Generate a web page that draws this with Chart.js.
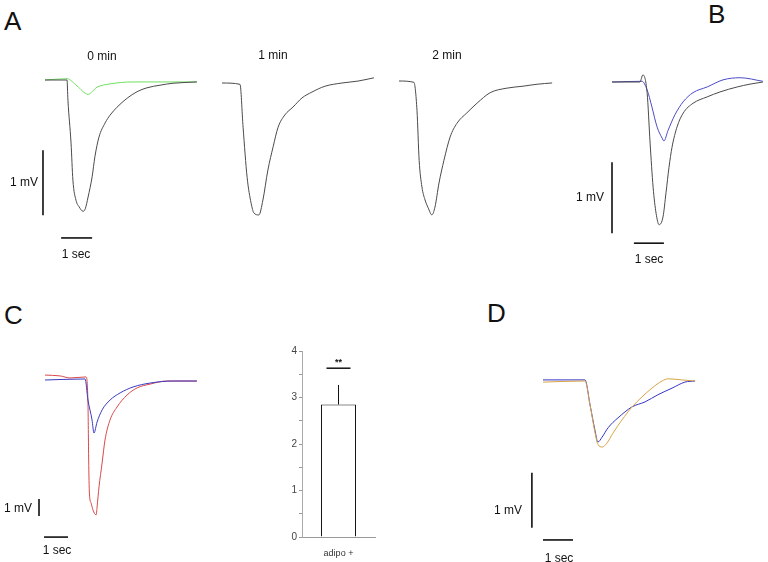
<!DOCTYPE html>
<html>
<head>
<meta charset="utf-8">
<script src="https://cdn.jsdelivr.net/npm/chart.js@4.4.1/dist/chart.umd.min.js"></script>
<style>
  html,body{margin:0;padding:0;background:#fff;}
  #fig{position:relative;width:768px;height:562px;overflow:hidden;font-family:"Liberation Sans",Arial,sans-serif;color:#111;}
  #fig canvas{position:absolute;}
  .letter{position:absolute;font-size:26px;line-height:26px;}
  .lbl{position:absolute;font-size:12px;line-height:12px;white-space:nowrap;transform:translate(-50%,-50%);}
</style>
</head>
<body>
<div id="fig">
  <canvas id="cA0"></canvas>
  <canvas id="cA1"></canvas>
  <canvas id="cA2"></canvas>
  <canvas id="cB"></canvas>
  <canvas id="cC"></canvas>
  <canvas id="cCbar"></canvas>
  <canvas id="cD"></canvas>

  <div class="letter" style="left:4px;top:8px">A</div>
  <div class="letter" style="left:708px;top:1px">B</div>
  <div class="letter" style="left:4px;top:302px">C</div>
  <div class="letter" style="left:487px;top:300px">D</div>

  <div class="lbl" style="left:102px;top:56px">0 min</div>
  <div class="lbl" style="left:273px;top:55px">1 min</div>
  <div class="lbl" style="left:447px;top:55px">2 min</div>

  <div class="lbl" style="left:24px;top:182px">1 mV</div>
  <div class="lbl" style="left:76px;top:254px">1 sec</div>
  <div class="lbl" style="left:590px;top:197px">1 mV</div>
  <div class="lbl" style="left:649px;top:259px">1 sec</div>
  <div class="lbl" style="left:18px;top:508px">1 mV</div>
  <div class="lbl" style="left:57px;top:550px">1 sec</div>
  <div class="lbl" style="left:508px;top:510px">1 mV</div>
  <div class="lbl" style="left:559px;top:558px">1 sec</div>
</div>
<script>
// traces: time (sec) / membrane potential (mV), baseline = 0
const a0BlackT = [0, 0.71, 0.74, 0.84, 0.9, 1.0, 1.1, 1.23, 1.3, 1.39, 1.52, 1.61, 1.74, 1.94, 2.1, 2.32, 2.65, 2.97, 3.29, 3.71, 4.13, 4.9];
const a0BlackV = [0, 0, -0.31, -0.97, -1.54, -1.85, -1.95, -2.02, -1.98, -1.8, -1.49, -1.18, -0.88, -0.66, -0.54, -0.42, -0.28, -0.18, -0.12, -0.08, -0.05, -0.03];
const a0GreenT = [0, 0.71, 1.03, 1.39, 1.68, 2.1, 2.84, 4.9];
const a0GreenV = [0, 0.02, -0.09, -0.22, -0.11, -0.06, -0.03, -0.03];

const a1T = [0, 0.58, 0.68, 0.81, 0.94, 1.03, 1.19, 1.32, 1.48, 1.65, 1.81, 2.03, 2.29, 2.58, 2.9, 3.32, 3.87, 4.39, 4.9];
const a1V = [0, -0.02, -0.68, -1.45, -1.85, -2.0, -2.03, -1.8, -1.34, -0.98, -0.68, -0.49, -0.37, -0.23, -0.14, -0.05, 0, 0.03, 0.08];

const a2T = [0, 0.48, 0.58, 0.65, 0.74, 0.84, 0.94, 1.06, 1.16, 1.29, 1.45, 1.65, 1.87, 2.19, 2.52, 2.94, 3.48, 4.0, 4.45, 4.94];
const a2V = [0, -0.02, -0.45, -1.22, -1.63, -1.83, -1.95, -2.06, -1.94, -1.57, -1.22, -0.86, -0.65, -0.49, -0.34, -0.18, -0.11, -0.08, -0.05, -0.03];

const bBlackT = [0, 0.93, 1.03, 1.17, 1.27, 1.37, 1.47, 1.57, 1.7, 1.8, 1.9, 2.0, 2.17, 2.37, 2.7, 3.17, 3.6, 4.17, 4.6, 5.03];
const bBlackV = [0, 0, 0.1, -0.15, -0.86, -1.48, -1.85, -2.01, -1.9, -1.56, -1.2, -0.92, -0.63, -0.44, -0.3, -0.21, -0.14, -0.07, -0.03, 0];
const bBlueT = [0, 1.0, 1.17, 1.33, 1.5, 1.67, 1.73, 1.87, 2.1, 2.37, 2.7, 3.17, 3.7, 4.27, 5.03];
const bBlueV = [0, 0.01, -0.11, -0.35, -0.63, -0.79, -0.83, -0.68, -0.46, -0.28, -0.15, -0.07, 0.03, 0.06, 0.01];

const cRedT = [0, 0.63, 1.04, 1.71, 1.79, 1.82, 1.85, 1.92, 2.0, 2.13, 2.17, 2.25, 2.38, 2.5, 2.71, 3.0, 3.42, 3.83, 4.38, 5.08, 6.33];
const cRedV = [0.29, 0.24, 0.12, 0.18, -1.35, -4.71, -6.65, -7.24, -7.65, -7.94, -7.47, -6.29, -4.88, -3.53, -2.35, -1.59, -0.88, -0.47, -0.24, -0.06, -0.06];
const cBlueT = [0, 1.67, 1.79, 1.96, 2.04, 2.17, 2.38, 2.71, 3.13, 3.67, 4.38, 5.33, 6.33];
const cBlueV = [0, 0.06, -1.18, -2.35, -3.12, -2.47, -1.76, -1.18, -0.76, -0.41, -0.18, -0.06, -0.06];

const dOrangeT = [0, 1.4, 1.57, 1.73, 1.83, 1.97, 2.13, 2.33, 2.63, 2.97, 3.3, 3.63, 3.97, 4.17, 4.63, 5.07];
const dOrangeV = [-0.02, 0, -0.44, -0.93, -1.15, -1.2, -1.13, -0.95, -0.71, -0.47, -0.29, -0.13, 0, 0.04, 0.02, 0];
const dBlueT = [0, 1.4, 1.57, 1.73, 1.83, 1.97, 2.17, 2.5, 2.97, 3.4, 3.83, 4.3, 4.73, 5.07];
const dBlueV = [0.02, 0.02, -0.44, -0.89, -1.11, -1.02, -0.85, -0.67, -0.47, -0.38, -0.25, -0.13, -0.02, 0];

// bar graph in C
const barLabels = ['adipo +'];
const barValues = [2.85];
const barErrUpper = [3.27];
const sigLevel = 3.63;
const sigText = '**';

// scale bars (1 sec, 1 mV): anchor corner in data units
const scaleA = {vx: -0.065, vTop: -1.08, hy: -2.43, hx: 0.52};
const scaleB = {vx: 0, vTop: -1.13, hy: -2.27, hx: 0.73};
const scaleC = {vx: -0.25, vTop: -7.0, hy: -9.24, hx: -0.04};
const scaleD = {vx: -0.37, vTop: -1.67, hy: -2.89, hx: 0};

function pts(t, v){ return t.map((x,i)=>({x:x, y:v[i]})); }

function trace(t, v, color){
  return {data:pts(t,v), borderColor:color, borderWidth:1, pointRadius:0, cubicInterpolationMode:'monotone', fill:false};
}

function bars(s){
  const st = {borderColor:'#000', borderWidth:1.5, pointRadius:0, tension:0, fill:false};
  return [
    Object.assign({data:[{x:s.vx,y:s.vTop},{x:s.vx,y:s.vTop-1}]}, st),
    Object.assign({data:[{x:s.hx,y:s.hy},{x:s.hx+1,y:s.hy}]}, st)
  ];
}

// place a canvas and set ranges so that origin (t=0, v=0) lands on page point (ox,oy)
function panel(id, rect, ox, oy, pxSec, pxMv, datasets){
  const cv = document.getElementById(id);
  cv.style.left = rect[0]+'px'; cv.style.top = rect[1]+'px';
  cv.width = rect[2]; cv.height = rect[3];
  cv.style.width = rect[2]+'px'; cv.style.height = rect[3]+'px';
  new Chart(cv, {
    type:'line',
    data:{datasets:datasets},
    options:{
      responsive:false, animation:false,
      layout:{padding:0},
      plugins:{legend:{display:false}, tooltip:{enabled:false}},
      scales:{
        x:{type:'linear', display:false, min:(rect[0]-ox)/pxSec, max:(rect[0]+rect[2]-ox)/pxSec},
        y:{type:'linear', display:false, max:(oy-rect[1])/pxMv, min:(oy-rect[1]-rect[3])/pxMv}
      }
    }
  });
}

panel('cA0', [0,60,205,210], 45, 80, 31, 65,
  [trace(a0BlackT, a0BlackV, '#4a4a4a'), trace(a0GreenT, a0GreenV, '#6ee05e')].concat(bars(scaleA)));
panel('cA1', [205,60,180,170], 222, 83, 31, 65, [trace(a1T, a1V, '#4a4a4a')]);
panel('cA2', [385,60,180,170], 399, 81, 31, 65, [trace(a2T, a2V, '#4a4a4a')]);
panel('cB', [570,60,198,200], 612, 82, 30, 71,
  [trace(bBlackT, bBlackV, '#4a4a4a'), trace(bBlueT, bBlueV, '#4b4bc8')].concat(bars(scaleB)));
panel('cC', [0,360,210,190], 45, 380, 24, 17,
  [trace(cBlueT, cBlueV, '#3a3ac0'), trace(cRedT, cRedV, '#d9484a')].concat(bars(scaleC)));
panel('cD', [480,360,230,190], 543, 381, 30, 55,
  [trace(dOrangeT, dOrangeV, '#d8a347'), trace(dBlueT, dBlueV, '#3434c4')].concat(bars(scaleD)));

// error bar + significance mark
const errPlugin = {
  id:'err',
  afterDatasetsDraw(chart){
    const ctx = chart.ctx, y = chart.scales.y;
    const meta = chart.getDatasetMeta(0);
    ctx.save();
    ctx.strokeStyle = '#111'; ctx.lineWidth = 1;
    meta.data.forEach((el,i)=>{
      ctx.beginPath();
      ctx.moveTo(el.x, el.y);
      ctx.lineTo(el.x, y.getPixelForValue(barErrUpper[i]));
      ctx.stroke();
      const sy = y.getPixelForValue(sigLevel);
      ctx.lineWidth = 1.5;
      ctx.beginPath();
      ctx.moveTo(el.x-12, sy); ctx.lineTo(el.x+12, sy);
      ctx.stroke();
      ctx.fillStyle = '#111';
      ctx.font = 'bold 9px "Liberation Sans", Arial';
      ctx.textAlign = 'center'; ctx.textBaseline = 'bottom';
      ctx.fillText(sigText, el.x, sy-1);
    });
    ctx.restore();
  }
};

(function(){
  const cv = document.getElementById('cCbar');
  const rect = [270,340,120,220];
  cv.style.left = rect[0]+'px'; cv.style.top = rect[1]+'px';
  cv.width = rect[2]; cv.height = rect[3];
  cv.style.width = rect[2]+'px'; cv.style.height = rect[3]+'px';
  new Chart(cv, {
    type:'bar',
    data:{labels:barLabels, datasets:[{data:barValues, backgroundColor:'#fff', borderColor:'#111', borderWidth:1,
      barPercentage:0.48, categoryPercentage:1}]},
    options:{
      responsive:false, animation:false,
      layout:{padding:{top:11, right:15, left:0, bottom:0}},
      plugins:{legend:{display:false}, tooltip:{enabled:false}},
      scales:{
        x:{grid:{display:false}, border:{color:'#999'},
           ticks:{color:'#333', font:{size:9, family:'"Liberation Sans", Arial'}, padding:3},
           afterFit(s){ s.height = 23; }},
        y:{min:0, max:4, border:{color:'#aaa'},
           grid:{drawOnChartArea:false, drawTicks:true, tickLength:3, color:'#999'},
           ticks:{stepSize:0.5, padding:2, color:'#444', font:{size:10, family:'"Liberation Sans", Arial'},
             callback:v => Number.isInteger(v) ? v : ''},
           afterFit(s){ s.width = 32; }}
      }
    },
    plugins:[errPlugin]
  });
})();
</script>
</body>
</html>
